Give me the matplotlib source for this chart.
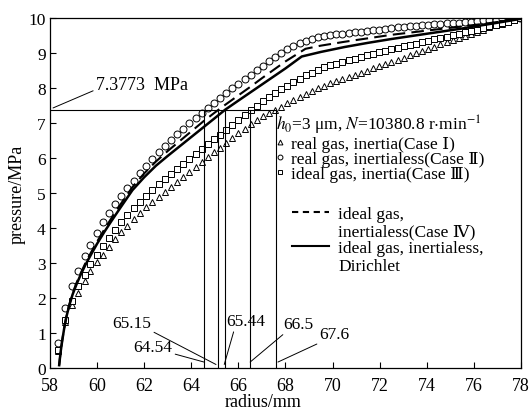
import matplotlib
matplotlib.use('Agg')
from matplotlib import pyplot as plt
from matplotlib.lines import Line2D

plt.rcParams['font.family'] = ['Liberation Serif', 'DejaVu Serif', 'Noto Sans CJK SC']
plt.rcParams['mathtext.fontset'] = 'stix'

# radius grid of the marker series (mm)
r_pts = [58.36, 58.64, 58.93, 59.20, 59.47, 59.72, 59.99, 60.25, 60.51, 60.77,
         61.03, 61.29, 61.55, 61.81, 62.08, 62.35, 62.62, 62.88, 63.14, 63.40,
         63.66, 63.92, 64.18, 64.44, 64.70, 64.96, 65.22, 65.48, 65.74, 66.00,
         66.26, 66.52, 66.78, 67.04, 67.30, 67.56, 67.82, 68.08, 68.34, 68.60,
         68.86, 69.12, 69.38, 69.64, 69.90, 70.16, 70.42, 70.68, 70.94, 71.20,
         71.46, 71.72, 71.98, 72.24, 72.50, 72.76, 73.02, 73.28, 73.54, 73.80,
         74.06, 74.32, 74.58, 74.84, 75.10, 75.36, 75.62, 75.88, 76.14, 76.40,
         76.66, 76.92, 77.18, 77.44, 77.70, 77.96]

# Case I: real gas, inertia (triangles)
p_case1 = [0.48, 1.32, 1.80, 2.14, 2.48, 2.76, 3.02, 3.24, 3.47, 3.68,
           3.88, 4.07, 4.25, 4.42, 4.59, 4.75, 4.90, 5.04, 5.18, 5.32,
           5.46, 5.61, 5.75, 5.89, 6.03, 6.17, 6.30, 6.43, 6.56, 6.71,
           6.84, 6.96, 7.08, 7.19, 7.28, 7.37, 7.46, 7.56, 7.66, 7.75,
           7.84, 7.92, 8.00, 8.07, 8.13, 8.19, 8.25, 8.31, 8.38, 8.44,
           8.50, 8.56, 8.62, 8.68, 8.74, 8.80, 8.86, 8.93, 8.99, 9.05,
           9.12, 9.18, 9.25, 9.31, 9.37, 9.43, 9.49, 9.55, 9.61, 9.67,
           9.73, 9.79, 9.84, 9.89, 9.94, 9.99]

# Case II: real gas, inertialess (circles)
p_case2 = [0.72, 1.72, 2.33, 2.78, 3.19, 3.52, 3.86, 4.16, 4.42, 4.69,
           4.92, 5.14, 5.35, 5.57, 5.78, 5.98, 6.18, 6.35, 6.52, 6.68,
           6.84, 6.99, 7.14, 7.29, 7.44, 7.58, 7.72, 7.86, 7.99, 8.12,
           8.25, 8.38, 8.51, 8.64, 8.77, 8.89, 9.01, 9.11, 9.20, 9.28,
           9.35, 9.41, 9.45, 9.48, 9.51, 9.53, 9.55, 9.57, 9.59, 9.61,
           9.63, 9.65, 9.67, 9.69, 9.71, 9.73, 9.74, 9.76, 9.77, 9.79,
           9.81, 9.82, 9.83, 9.85, 9.86, 9.87, 9.89, 9.90, 9.91, 9.93,
           9.94, 9.95, 9.97, 9.98, 9.99, 10.00]

# Case III: ideal gas, inertia (squares)
p_case3 = [0.52, 1.38, 1.92, 2.33, 2.66, 2.97, 3.23, 3.48, 3.72, 3.95,
           4.17, 4.37, 4.56, 4.75, 4.92, 5.10, 5.27, 5.41, 5.55, 5.69,
           5.83, 5.97, 6.11, 6.25, 6.39, 6.53, 6.67, 6.81, 6.95, 7.09,
           7.23, 7.37, 7.50, 7.62, 7.74, 7.86, 7.97, 8.07, 8.17, 8.27,
           8.36, 8.44, 8.52, 8.59, 8.65, 8.70, 8.75, 8.80, 8.84, 8.89,
           8.94, 8.98, 9.03, 9.07, 9.11, 9.15, 9.19, 9.23, 9.27, 9.31,
           9.35, 9.39, 9.43, 9.47, 9.51, 9.55, 9.59, 9.63, 9.67, 9.71,
           9.76, 9.80, 9.85, 9.89, 9.94, 9.99]

# Case IV: ideal gas, inertialess (dashed)
r_case4 = [58.39, 58.45, 58.52, 58.60, 58.70, 58.82, 58.96, 59.12, 59.30, 59.50,
           59.75, 60.00, 60.30, 60.60, 61.00, 61.50, 62.00, 62.50, 63.00, 63.50,
           64.00, 64.50, 65.00, 65.44, 66.00, 66.50, 67.00, 67.50, 68.00, 68.85,
           69.50, 70.50, 71.50, 72.50, 73.50, 74.50, 75.50, 76.50, 77.50, 78.00]
p_case4 = [0.08, 0.45, 0.79, 1.13, 1.49, 1.81, 2.13, 2.42, 2.70, 2.99,
           3.31, 3.61, 3.95, 4.27, 4.68, 5.17, 5.56, 5.90, 6.20, 6.48,
           6.76, 7.04, 7.30, 7.52, 7.79, 8.03, 8.28, 8.52, 8.76, 9.12,
           9.21, 9.32, 9.42, 9.52, 9.60, 9.68, 9.76, 9.84, 9.93, 9.98]

# ideal gas, inertialess, Dirichlet (solid)
r_dir = [58.39, 58.45, 58.52, 58.60, 58.70, 58.82, 58.96, 59.12, 59.30, 59.50,
         59.75, 60.00, 60.30, 60.60, 61.00, 61.50, 62.00, 62.50, 63.00, 63.50,
         64.00, 64.50, 65.00, 65.44, 66.00, 66.50, 67.00, 67.50, 68.00, 68.69,
         69.50, 70.50, 71.50, 72.50, 73.50, 74.50, 75.50, 76.50, 77.50, 78.00]
p_dir = [0.08, 0.45, 0.78, 1.12, 1.47, 1.79, 2.10, 2.38, 2.66, 2.94,
         3.25, 3.55, 3.88, 4.19, 4.59, 5.08, 5.45, 5.78, 6.06, 6.33,
         6.60, 6.87, 7.14, 7.38, 7.64, 7.87, 8.10, 8.33, 8.56, 8.90,
         9.03, 9.17, 9.29, 9.40, 9.50, 9.60, 9.70, 9.81, 9.92, 9.98]

p_ref = 7.3773
r_cross = [64.54, 65.15, 65.44, 66.5, 67.6]
cross_labels = ['64.54', '65.15', '65.44', '66.5', '67.6']
# (text position, leader end) per crossing label, in data units
cross_text = [(63.2, 0.6), (62.3, 1.29), (65.5, 1.34), (67.9, 1.26), (69.45, 0.97)]
cross_ends = [(64.54, 0.17), (65.05, 0.1), (65.4, 0.1), (66.5, 0.17), (67.68, 0.17)]

fig = plt.figure(figsize=(5.30, 4.14), dpi=100)
ax = fig.add_axes([0.0943, 0.1087, 0.8887, 0.8454])

mk = dict(linestyle='none', mfc='white', mec='black', mew=0.7, color='black')
ax.plot(r_pts, p_case1, marker='^', ms=5, label='real gas, inertia(Case Ⅰ)', **mk)
ax.plot(r_pts, p_case2, marker='o', ms=5, label='real gas, inertialess(Case Ⅱ)', **mk)
ax.plot(r_pts, p_case3, marker='s', ms=4.5, label='ideal gas, inertia(Case Ⅲ)', **mk)
ax.plot(r_case4, p_case4, color='black', lw=1.5, dashes=(6, 3))
ax.plot(r_dir, p_dir, color='black', lw=1.8)

# reference pressure and crossing radii
ax.plot([58, r_cross[-1]], [p_ref, p_ref], color='black', lw=0.8)
for r in r_cross:
    ax.plot([r, r], [0, p_ref], color='black', lw=0.8)

ax.annotate('7.3773  MPa', xy=(58.13, 7.43), xytext=(59.95, 8.1), fontsize=13,
            va='center', ha='left',
            arrowprops=dict(arrowstyle='-', lw=0.7, color='black', shrinkA=0, shrinkB=0,
                            relpos=(0.0, 0.2)))
relposes = [(1.0, 0.1), (1.0, 0.0), (0.2, 0.0), (0.1, 0.0), (0.05, 0.0)]
for lab, (tx, ty), end, rp, i in zip(cross_labels, cross_text, cross_ends, relposes, range(5)):
    ha = 'right' if i < 2 else 'left'
    ax.annotate(lab, xy=end, xytext=(tx, ty), fontsize=12.5, ha=ha, va='center',
                arrowprops=dict(arrowstyle='-', lw=0.7, color='black', shrinkA=0, shrinkB=0,
                                relpos=rp))

ax.set_xlim(58, 78)
ax.set_ylim(0, 10)
ax.set_xticks(range(58, 79, 2))
ax.set_yticks(range(0, 11))
ax.tick_params(direction='in', length=4, width=0.8, labelsize=13, top=False, right=False)
ax.tick_params(axis='y', pad=3, labelsize=12.5)
ax.tick_params(axis='x', pad=6.5)
for s in ax.spines.values():
    s.set_linewidth(0.9)
ax.set_xlabel('radius/mm', fontsize=13, x=0.452, labelpad=-1)
ax.set_ylabel('pressure/MPa', fontsize=13, labelpad=2)

leg1 = ax.legend(loc='upper left', bbox_to_anchor=(0.48, 0.728), frameon=False,
                 title=r'$h_0$=3 μm, $N$=10380.8 r$\cdot$min$^{-1}$', title_fontsize=12.5,
                 alignment='left', fontsize=12.5, handlelength=0.5, handletextpad=0.35,
                 labelspacing=-0.05, borderpad=0, borderaxespad=0, markerscale=0.7)
ax.add_artist(leg1)

h_dash = Line2D([], [], color='black', lw=1.5, dashes=(3, 2.2))
h_solid = Line2D([], [], color='black', lw=1.5)
h_none = Line2D([], [], color='none')
ax.legend([h_dash, h_none, h_solid, h_none],
          ['ideal gas,', 'inertialess(Case Ⅳ)', 'ideal gas, inertialess,', 'Dirichlet'],
          loc='upper left', bbox_to_anchor=(0.514, 0.462), frameon=False, fontsize=12.5,
          handlelength=2.1, handletextpad=0.55, labelspacing=0.05, borderpad=0,
          borderaxespad=0)

plt.savefig('out.png', dpi=100)
